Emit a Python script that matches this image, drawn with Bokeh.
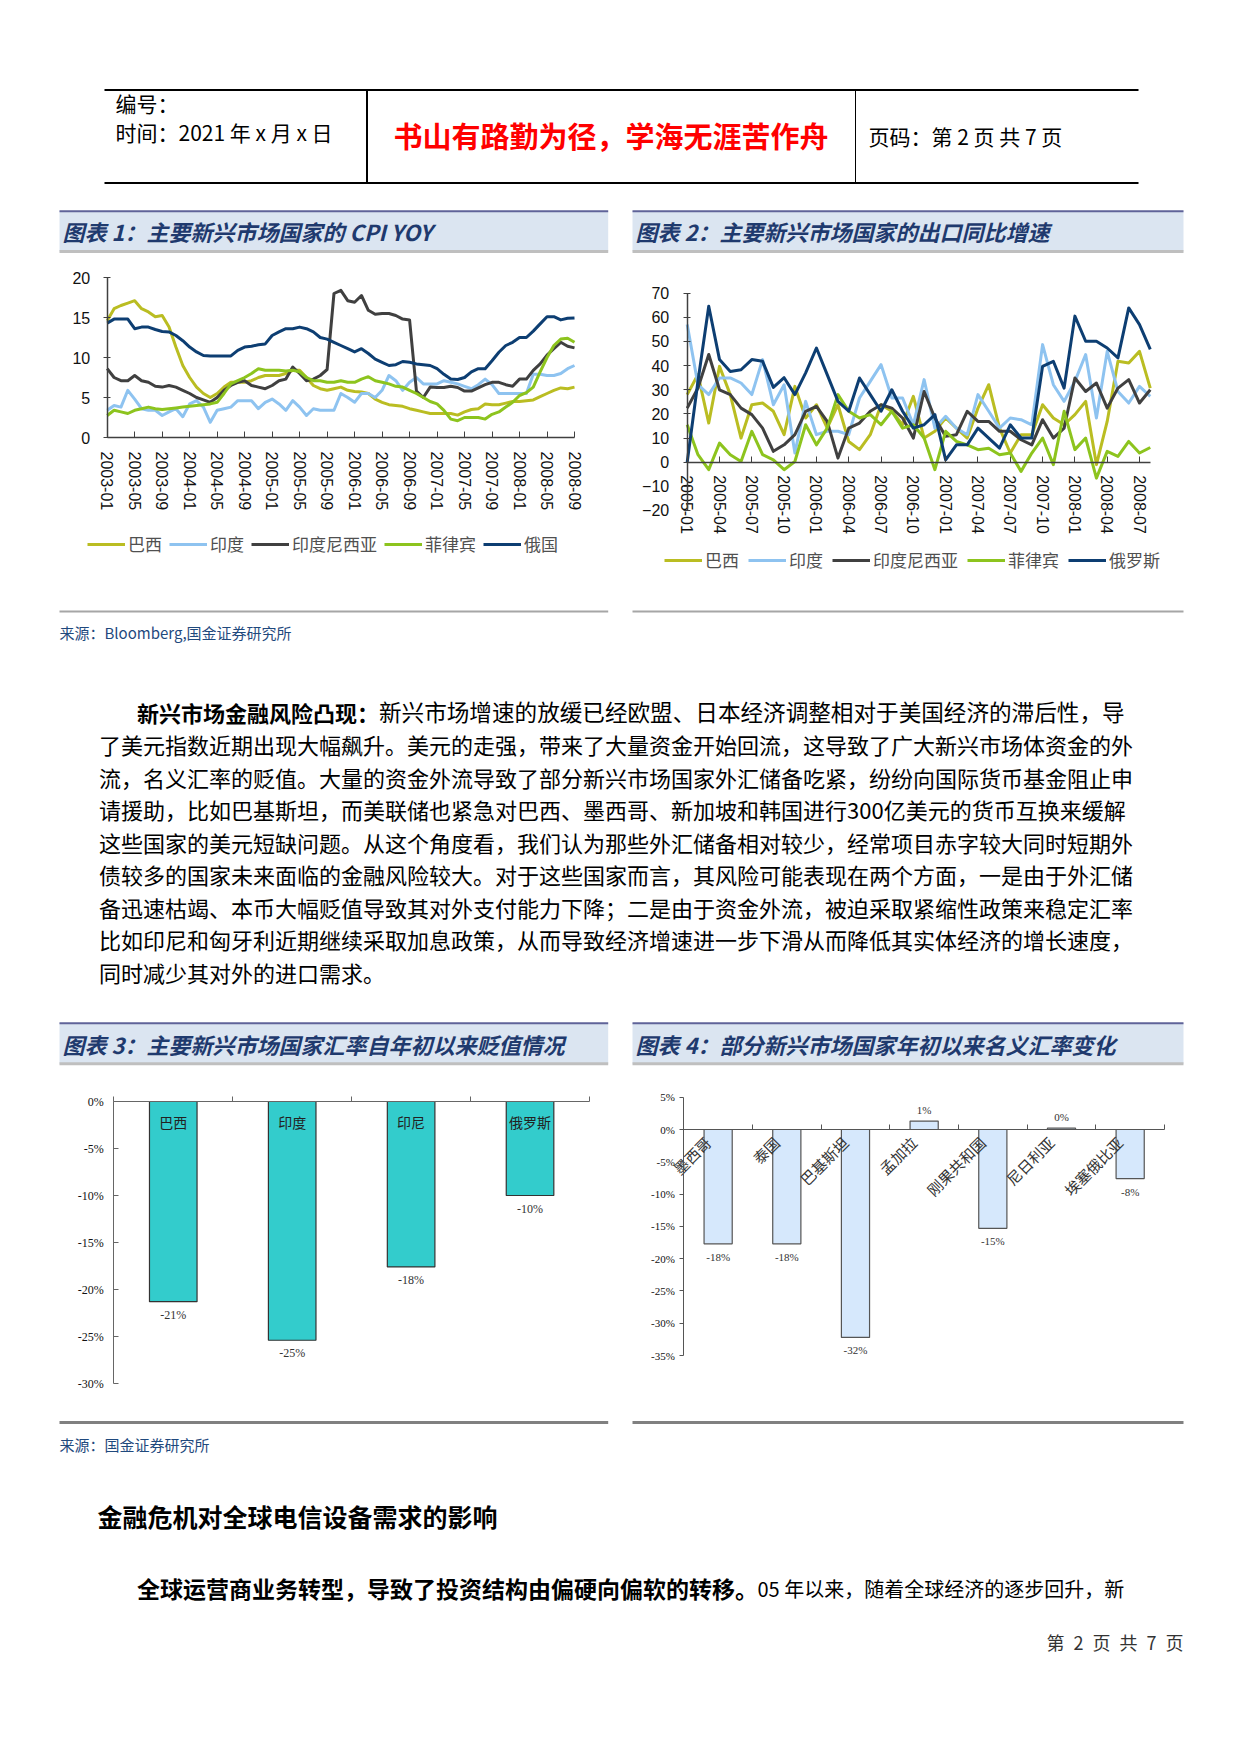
import numpy as np
from math import pi
from bokeh.plotting import figure
from bokeh.models import Range1d, LinearAxis, FixedTicker, Legend, LegendItem, ColumnDataSource
from bokeh.core.properties import value
from bokeh.embed import file_html
from bokeh.resources import INLINE

# ---------------- data ----------------
cpi_series = ["巴西", "印度", "印度尼西亚", "菲律宾", "俄国"]
cpi_tick_labels = ["2003-01", "2003-05", "2003-09", "2004-01", "2004-05", "2004-09",
                   "2005-01", "2005-05", "2005-09", "2006-01", "2006-05", "2006-09",
                   "2007-01", "2007-05", "2007-09", "2008-01", "2008-05", "2008-09"]
cpi_brazil = [14.6, 16.1, 16.5, 16.8, 17.1, 16.1, 15.7, 15.1, 15.25, 13.8, 11.3, 9.0, 7.5, 6.3, 5.5, 5.0,
              5.5, 6.3, 6.9, 6.9, 6.9, 7.1, 7.5, 7.75, 7.75, 7.75, 8.0, 8.4, 8.4, 7.5, 6.5, 6.1, 5.9, 6.1,
              6.3, 5.9, 5.75, 5.7, 5.5, 4.8, 4.4, 4.1, 4.0, 3.9, 3.6, 3.4, 3.2, 3.0, 3.0, 3.0, 3.0, 2.8,
              3.2, 3.5, 3.6, 4.2, 4.1, 4.1, 4.3, 4.5, 4.5, 4.6, 4.7, 5.1, 5.5, 5.9, 6.2, 6.1, 6.3]
cpi_india = [3.4, 4.0, 3.8, 5.9, 4.8, 3.6, 3.4, 3.4, 2.75, 3.2, 3.6, 2.6, 4.2, 4.6, 3.8, 1.9, 3.4, 3.6,
             3.8, 4.6, 4.6, 4.6, 3.6, 4.4, 4.8, 4.2, 3.4, 4.6, 3.8, 2.75, 3.6, 3.4, 3.4, 3.4, 5.5, 5.0,
             4.4, 5.5, 5.5, 5.0, 5.9, 7.75, 7.1, 5.9, 6.9, 7.5, 6.7, 6.7, 6.7, 7.1, 6.9, 6.7, 6.4, 6.1,
             6.6, 7.3, 6.6, 5.5, 5.5, 5.5, 5.5, 5.5, 7.9, 7.9, 7.75, 7.75, 8.0, 8.6, 9.0]
cpi_indonesia = [8.6, 7.5, 7.1, 7.1, 7.75, 7.1, 6.9, 6.4, 6.3, 6.5, 6.3, 5.9, 5.5, 5.0, 4.7, 4.4, 5.0,
                 5.9, 6.5, 6.9, 7.1, 6.5, 6.3, 6.1, 6.5, 7.1, 7.3, 8.8, 8.0, 7.1, 7.3, 7.75, 8.5, 18.0,
                 18.4, 17.1, 16.9, 17.75, 15.9, 15.4, 15.5, 15.5, 15.25, 14.8, 14.7, 5.8, 5.0, 6.3, 6.25,
                 6.25, 6.4, 6.25, 5.8, 5.8, 6.2, 6.6, 6.9, 6.9, 6.6, 6.4, 7.3, 7.3, 8.4, 9.2, 10.3, 11.1,
                 11.9, 11.4, 11.2]
cpi_philippines = [2.75, 3.4, 3.2, 3.0, 3.4, 3.6, 3.8, 3.6, 3.5, 3.6, 3.7, 3.8, 3.9, 4.0, 4.1, 4.2, 4.4,
                   5.5, 6.7, 7.1, 7.5, 8.0, 8.6, 8.4, 8.4, 8.4, 8.3, 8.4, 8.2, 7.5, 7.1, 7.1, 6.9, 6.9,
                   7.1, 6.9, 6.9, 7.3, 7.6, 7.1, 6.9, 6.7, 6.4, 6.3, 5.9, 5.5, 5.0, 4.5, 4.2, 3.4, 2.3,
                   2.1, 2.5, 2.5, 2.5, 2.3, 2.9, 3.2, 3.8, 4.4, 5.25, 5.6, 6.3, 8.2, 10.0, 11.5, 12.3,
                   12.4, 11.9]
cpi_russia = [14.3, 14.8, 14.8, 14.8, 13.6, 13.8, 13.8, 13.5, 13.25, 13.2, 12.75, 12.1, 11.3, 10.7,
              10.25, 10.2, 10.2, 10.2, 10.2, 10.9, 11.3, 11.4, 11.6, 11.7, 12.75, 13.2, 13.6, 13.6,
              13.8, 13.6, 13.2, 12.5, 12.3, 11.9, 11.5, 11.1, 10.7, 11.1, 10.5, 9.8, 9.4, 9.0, 9.1,
              9.5, 9.4, 9.2, 9.1, 9.0, 8.6, 7.9, 7.3, 7.25, 7.5, 8.2, 8.6, 8.6, 9.6, 10.65, 11.5, 11.9,
              12.5, 12.5, 13.3, 14.2, 15.1, 15.1, 14.7, 14.9, 14.95]

exp_series = ["巴西", "印度", "印度尼西亚", "菲律宾", "俄罗斯"]
exp_tick_labels = ["2005-01", "2005-04", "2005-07", "2005-10", "2006-01", "2006-04", "2006-07",
                   "2006-10", "2007-01", "2007-04", "2007-07", "2007-10", "2008-01", "2008-04", "2008-07"]
exp_brazil = [28.0, 36.3, 16.2, 39.7, 28.0, 10.0, 23.8, 24.5, 21.1, 11.4, 31.4, 18.3, 23.8, 14.1, 23.8,
              8.6, 5.2, 11.4, 23.8, 21.1, 15.5, 27.3, 10.0, 12.8, 18.3, 14.1, 10.0, 22.4, 32.1, 14.1,
              3.8, 11.4, 11.4, 23.8, 18.3, 15.5, 19.7, 25.2, -1.0, 16.9, 41.8, 41.1, 45.9, 30.7]
exp_india = [57.0, 32.1, 28.0, 34.9, 34.9, 32.8, 28.0, 42.5, 23.8, 32.1, 3.8, 25.2, 11.4, 12.8, 12.8,
             11.4, 26.6, 33.5, 40.4, 26.6, 26.6, 15.5, 34.2, 14.1, 19.0, 14.1, 11.4, 28.0, 21.1, 14.1,
             18.3, 17.6, 15.5, 48.7, 32.1, 25.2, 33.5, 44.6, 18.3, 45.9, 29.3, 24.5, 31.4, 27.3]
exp_indonesia = [22.4, 30.7, 44.6, 30.0, 28.0, 22.4, 19.7, 14.1, 4.5, 7.2, 11.4, 21.1, 23.1, 16.9, 1.7,
                 14.1, 16.2, 21.1, 23.8, 22.4, 18.3, 10.0, 29.3, 18.3, 10.7, 11.4, 21.1, 16.9, 16.9,
                 12.8, 12.8, 9.3, 7.2, 17.6, 10.0, 14.1, 34.9, 29.3, 32.8, 22.4, 30.7, 34.2, 24.5, 30.0]
exp_philippines = [15.5, 3.1, -3.1, 7.9, 3.1, 0.3, 12.8, 3.1, 1.0, -3.1, 0.3, 15.5, 7.2, 14.1, 28.0,
                   21.1, 18.3, 19.7, 15.5, 21.1, 14.1, 15.5, 10.0, -3.1, 12.8, 8.6, 7.2, 5.2, 5.8, 3.1,
                   3.8, -3.8, 3.8, 10.0, -1.0, 21.1, 5.2, 10.0, -6.6, 4.5, 2.4, 8.6, 3.8, 6.1]
exp_russia = [0.0, 33.5, 64.6, 42.5, 37.6, 38.3, 42.5, 41.8, 31.0, 35.0, 28.0, 37.0, 47.3, 36.3, 25.2,
              21.1, 34.9, 28.0, 21.1, 30.0, 21.1, 14.1, 15.5, 19.7, 1.0, 7.2, 7.2, 14.1, 10.0, 5.8,
              15.5, 10.0, 10.0, 39.7, 41.8, 30.7, 60.5, 50.1, 50.1, 47.3, 43.2, 63.9, 57.0, 46.7]

fx3_countries = ["巴西", "印度", "印尼", "俄罗斯"]
fx3_values = [-21.3, -25.4, -17.6, -10.0]
fx3_ticks = [0, -5, -10, -15, -20, -25, -30]

fx4_countries = ["墨西哥", "泰国", "巴基斯坦", "孟加拉", "刚果共和国", "尼日利亚", "埃塞俄比亚"]
fx4_values = [-17.7, -17.7, -32.2, 1.3, -15.3, 0.2, -7.6]
fx4_ticks = [5, 0, -5, -10, -15, -20, -25, -30, -35]

# ---------------- page geometry ----------------
W, H = 1241, 1754
OX, OY = 0, 0
CJK = "Noto Sans CJK SC"
SANS = "Liberation Sans"
SERIF = "Liberation Serif"
line_colors = ["#BABD22", "#8EC3F0", "#404040", "#8DC41E", "#0D3E72"]


def xmap(u0, p0, u1, p1):
    k = (p1 - p0) / (u1 - u0)
    start = u0 - (p0 - OX) / k
    return Range1d(start=start, end=start + W / k)


def ymap(v0, p0, v1, p1):
    k = (p0 - p1) / (v1 - v0)
    start = v0 - (OY + H - p0) / k
    return Range1d(start=start, end=start + H / k)


p = figure(width=W, height=H, x_range=Range1d(OX, OX + W), y_range=Range1d(OY + H, OY),
           x_axis_type=None, y_axis_type=None, toolbar_location=None, output_backend="svg",
           min_border=0, outline_line_color=None, background_fill_color="white",
           border_fill_color="white")

p.extra_x_ranges = {"c1x": xmap(0, 106.7, 68, 574), "c2x": xmap(0, 686.7, 42, 1139),
                    "c3x": xmap(0, 113.3, 4, 589), "c4x": xmap(0, 683.3, 7, 1164)}
p.extra_y_ranges = {"c1y": ymap(0, 437, 20, 277), "c2y": ymap(0, 461.7, 70, 292.7),
                    "c3y": ymap(0, 1101, -30, 1383), "c4y": ymap(0, 1129, -35, 1355)}


def txt(x, y, t, size, color="#000000", font=CJK, style="normal", align="left"):
    p.text(x=x, y=y, text=t, text_font=value(font), text_font_size=size, text_color=color,
           text_font_style=style, text_align=align, text_baseline="middle")


# ---------------- header ----------------
p.segment(x0=[104, 104], y0=[89.5, 182.5], x1=[1138, 1138], y1=[89.5, 182.5], line_color="black", line_width=2)
p.segment(x0=[366.5], y0=[89.5], x1=[366.5], y1=[182.5], line_color="black", line_width=2)
p.segment(x0=[855], y0=[89.5], x1=[855], y1=[182.5], line_color="black", line_width=1)
txt([115, 115], [102, 131], ["编号：", "时间：2021 年 x 月 x 日"], "21px")
txt([393], [134], ["书山有路勤为径，学海无涯苦作舟"], "29px", color="#FF0000", style="bold")
txt([868], [135], ["页码：第 2 页 共 7 页"], "21px")

# ---------------- title bands ----------------
bands = [(59, 607.7, 210.7, 251), (632, 1183, 210.7, 251), (59, 607.7, 1022.7, 1063.3), (632, 1183, 1022.7, 1063.3)]
titles = ["图表 1：主要新兴市场国家的 CPI YOY", "图表 2：主要新兴市场国家的出口同比增速",
          "图表 3：主要新兴市场国家汇率自年初以来贬值情况", "图表 4：部分新兴市场国家年初以来名义汇率变化"]
p.quad(left=[b[0] for b in bands], right=[b[1] for b in bands], top=[b[2] for b in bands],
       bottom=[b[3] for b in bands], fill_color="#DBE5F1", line_color=None)
p.segment(x0=[b[0] for b in bands], y0=[b[2] for b in bands], x1=[b[1] for b in bands],
          y1=[b[2] for b in bands], line_color="#5F6399", line_width=2)
p.segment(x0=[b[0] for b in bands], y0=[b[3] for b in bands], x1=[b[1] for b in bands],
          y1=[b[3] for b in bands], line_color="#BFBFBF", line_width=3)
txt([b[0] + 3 for b in bands], [(b[2] + b[3]) / 2 for b in bands], titles, "22px",
    color="#1F3A6E", style="bold italic")

# bottom rules and sources
p.segment(x0=[59, 632], y0=[611, 611], x1=[607.7, 1183], y1=[611, 611], line_color="#A6A6A6", line_width=2)
p.segment(x0=[59, 632], y0=[1422, 1422], x1=[607.7, 1183], y1=[1422, 1422], line_color="#808080", line_width=3)
txt([59, 59], [632, 1444], ["来源：Bloomberg,国金证券研究所", "来源：国金证券研究所"], "15px", color="#1F497D")


def style_axis(ax, font, size, color="#404040"):
    ax.axis_line_color = color
    ax.major_tick_line_color = color
    ax.minor_tick_line_color = None
    ax.major_label_text_font = font
    ax.major_label_text_font_size = size
    ax.major_label_text_color = "#111111"


# ---------------- chart 1: CPI YOY ----------------
x1 = np.arange(len(cpi_brazil))
r1 = []
for vals, col in zip([cpi_brazil, cpi_india, cpi_indonesia, cpi_philippines, cpi_russia], line_colors):
    r1.append(p.line(x1, vals, line_color=col, line_width=3, line_join="round",
                     x_range_name="c1x", y_range_name="c1y"))
t1 = list(range(0, len(cpi_brazil), 4))
ax = LinearAxis(x_range_name="c1x", y_range_name="c1y", fixed_location=0, bounds=(0, len(cpi_brazil) - 1),
                ticker=FixedTicker(ticks=t1, minor_ticks=[]), major_label_overrides=dict(zip(t1, cpi_tick_labels)),
                major_label_orientation="vertical", major_tick_in=6, major_tick_out=0, major_label_standoff=14,
                axis_line_width=1.5)
style_axis(ax, SANS, "16px")
p.add_layout(ax, "below")
ay = LinearAxis(x_range_name="c1x", y_range_name="c1y", fixed_location=0, bounds=(0, 20),
                ticker=FixedTicker(ticks=[0, 5, 10, 15, 20], minor_ticks=[]), major_tick_in=3,
                major_tick_out=4, major_label_standoff=13, axis_line_width=1.5)
style_axis(ay, SANS, "16px")
p.add_layout(ay, "left")
leg1 = Legend(items=[LegendItem(label=n, renderers=[r]) for n, r in zip(cpi_series, r1)],
              location=(87 - OX, OY + H - 546 - 10))
p.add_layout(leg1)

# ---------------- chart 2: exports ----------------
x2 = np.arange(len(exp_brazil))
r2 = []
for vals, col in zip([exp_brazil, exp_india, exp_indonesia, exp_philippines, exp_russia], line_colors):
    r2.append(p.line(x2, vals, line_color=col, line_width=3, line_join="round",
                     x_range_name="c2x", y_range_name="c2y"))
t2 = list(range(0, len(exp_brazil), 3))
ax2 = LinearAxis(x_range_name="c2x", y_range_name="c2y", fixed_location=0, bounds=(0, len(exp_brazil) - 1),
                 ticker=FixedTicker(ticks=t2, minor_ticks=[]), major_label_overrides=dict(zip(t2, exp_tick_labels)),
                 major_label_orientation="vertical", major_tick_in=6, major_tick_out=0, major_label_standoff=13,
                 axis_line_width=1.5)
style_axis(ax2, SANS, "16px")
p.add_layout(ax2, "below")
ay2 = LinearAxis(x_range_name="c2x", y_range_name="c2y", fixed_location=0, bounds=(-20, 70),
                 ticker=FixedTicker(ticks=list(range(-20, 71, 10)), minor_ticks=[]), major_tick_in=3,
                 major_tick_out=4, major_label_standoff=14, axis_line_width=1.5)
style_axis(ay2, SANS, "16px")
p.add_layout(ay2, "left")
leg2 = Legend(items=[LegendItem(label=n, renderers=[r]) for n, r in zip(exp_series, r2)],
              location=(664 - OX, OY + H - 562 - 10))
p.add_layout(leg2)

for lg, sp in [(leg1, 7), (leg2, 9)]:
    lg.orientation = "horizontal"
    lg.glyph_width = 38
    lg.glyph_height = 20
    lg.label_height = 20
    lg.label_standoff = 3
    lg.spacing = sp
    lg.padding = 0
    lg.margin = 0
    lg.border_line_color = None
    lg.background_fill_alpha = 0
    lg.label_text_font = CJK
    lg.label_text_font_size = "17px"
    lg.label_text_color = "#505050"

# ---------------- chart 3: depreciation ----------------
pos3 = np.arange(len(fx3_countries)) + 0.5
p.vbar(x=pos3, top=fx3_values, bottom=0, width=0.4, fill_color="#33CCCC", line_color="#333333",
       line_width=1.2, x_range_name="c3x", y_range_name="c3y")
src3 = ColumnDataSource(dict(x=pos3, y=fx3_values, t=[f"{round(v)}%" for v in fx3_values],
                             off=[13 if v < 0 else -11 for v in fx3_values]))
p.text(x="x", y="y", text="t", y_offset="off", source=src3, x_range_name="c3x", y_range_name="c3y",
       text_font=value(SERIF), text_font_size="12px", text_color="#333333", text_align="center",
       text_baseline="middle")
p.text(x=pos3, y=np.zeros(len(pos3)), text=fx3_countries, y_offset=20, x_range_name="c3x", y_range_name="c3y",
       text_font=value(CJK), text_font_size="14px", text_color="#222222", text_align="center",
       text_baseline="middle")
t3 = list(range(len(fx3_countries) + 1))
ax3 = LinearAxis(x_range_name="c3x", y_range_name="c3y", fixed_location=0, bounds=(0, len(fx3_countries)),
                 ticker=FixedTicker(ticks=t3, minor_ticks=[]), major_label_overrides={t: "" for t in t3},
                 major_tick_in=5, major_tick_out=0)
style_axis(ax3, SERIF, "12px", color="#666666")
p.add_layout(ax3, "below")
ay3 = LinearAxis(x_range_name="c3x", y_range_name="c3y", fixed_location=0, bounds=(min(fx3_ticks), max(fx3_ticks)),
                 ticker=FixedTicker(ticks=fx3_ticks, minor_ticks=[]),
                 major_label_overrides={t: f"{t}%" for t in fx3_ticks},
                 major_tick_in=5, major_tick_out=0, major_label_standoff=10)
style_axis(ay3, SERIF, "12px", color="#666666")
p.add_layout(ay3, "left")

# ---------------- chart 4: nominal FX change ----------------
pos4 = np.arange(len(fx4_countries)) + 0.5
p.vbar(x=pos4, top=fx4_values, bottom=0, width=0.41, fill_color="#D6E8FC", line_color="#555555",
       line_width=1.2, x_range_name="c4x", y_range_name="c4y")
src4 = ColumnDataSource(dict(x=pos4, y=fx4_values, t=[f"{round(v)}%" for v in fx4_values],
                             off=[13 if v < 0 else -11 for v in fx4_values]))
p.text(x="x", y="y", text="t", y_offset="off", source=src4, x_range_name="c4x", y_range_name="c4y",
       text_font=value(SERIF), text_font_size="11px", text_color="#333333", text_align="center",
       text_baseline="middle")
t4 = list(range(len(fx4_countries) + 1))
ax4 = LinearAxis(x_range_name="c4x", y_range_name="c4y", fixed_location=0, bounds=(0, len(fx4_countries)),
                 ticker=FixedTicker(ticks=t4, minor_ticks=[]), major_label_overrides={t: "" for t in t4},
                 major_tick_in=5, major_tick_out=0)
style_axis(ax4, SERIF, "11px", color="#555555")
p.add_layout(ax4, "below")
lab4 = [float(v) for v in (pos4 - 0.15)]  # labels sit just left of each bar, as in the source
ax4l = LinearAxis(x_range_name="c4x", y_range_name="c4y", fixed_location=0,
                  ticker=FixedTicker(ticks=lab4, minor_ticks=[]),
                  major_label_overrides=dict(zip(lab4, fx4_countries)),
                  major_label_orientation=pi / 4, major_tick_in=0, major_tick_out=0, major_label_standoff=10,
                  axis_line_color=None)
ax4l.major_tick_line_color = None
ax4l.minor_tick_line_color = None
ax4l.major_label_text_font = CJK
ax4l.major_label_text_font_size = "15px"
ax4l.major_label_text_color = "#333333"
p.add_layout(ax4l, "below")
ay4 = LinearAxis(x_range_name="c4x", y_range_name="c4y", fixed_location=0, bounds=(min(fx4_ticks), max(fx4_ticks)),
                 ticker=FixedTicker(ticks=fx4_ticks, minor_ticks=[]),
                 major_label_overrides={t: f"{t}%" for t in fx4_ticks},
                 major_tick_in=0, major_tick_out=4, major_label_standoff=5)
style_axis(ay4, SERIF, "11px", color="#555555")
p.add_layout(ay4, "left")

# ---------------- body text ----------------
para_y = [711, 743.5, 776, 808.5, 841, 873.5, 906, 938.5, 971]
para_lines = [
    "了美元指数近期出现大幅飙升。美元的走强，带来了大量资金开始回流，这导致了广大新兴市场体资金的外",
    "流，名义汇率的贬值。大量的资金外流导致了部分新兴市场国家外汇储备吃紧，纷纷向国际货币基金阻止申",
    "请援助，比如巴基斯坦，而美联储也紧急对巴西、墨西哥、新加坡和韩国进行300亿美元的货币互换来缓解",
    "这些国家的美元短缺问题。从这个角度看，我们认为那些外汇储备相对较少，经常项目赤字较大同时短期外",
    "债较多的国家未来面临的金融风险较大。对于这些国家而言，其风险可能表现在两个方面，一是由于外汇储",
    "备迅速枯竭、本币大幅贬值导致其对外支付能力下降；二是由于资金外流，被迫采取紧缩性政策来稳定汇率",
    "比如印尼和匈牙利近期继续采取加息政策，从而导致经济增速进一步下滑从而降低其实体经济的增长速度，",
    "同时减少其对外的进口需求。",
]
txt([136.5], [para_y[0]], ["新兴市场金融风险凸现："], "22px", style="bold")
txt([378.5], [para_y[0]], ["新兴市场增速的放缓已经欧盟、日本经济调整相对于美国经济的滞后性，导"], "22.6px")
txt([98.5] * len(para_lines), para_y[1:], para_lines, "22px")

txt([97], [1515], ["金融危机对全球电信设备需求的影响"], "25px", style="bold")
txt([136.5], [1587], ["全球运营商业务转型，导致了投资结构由偏硬向偏软的转移。"], "23px", style="bold")
txt([757], [1588], ["05 年以来，随着全球经济的逐步回升，新"], "20px")
txt([1183], [1641], ["第\u20022\u2002页\u2002共\u20027\u2002页"], "18px", color="#333333", align="right")

open("out.html", "w").write(file_html(p, INLINE))
